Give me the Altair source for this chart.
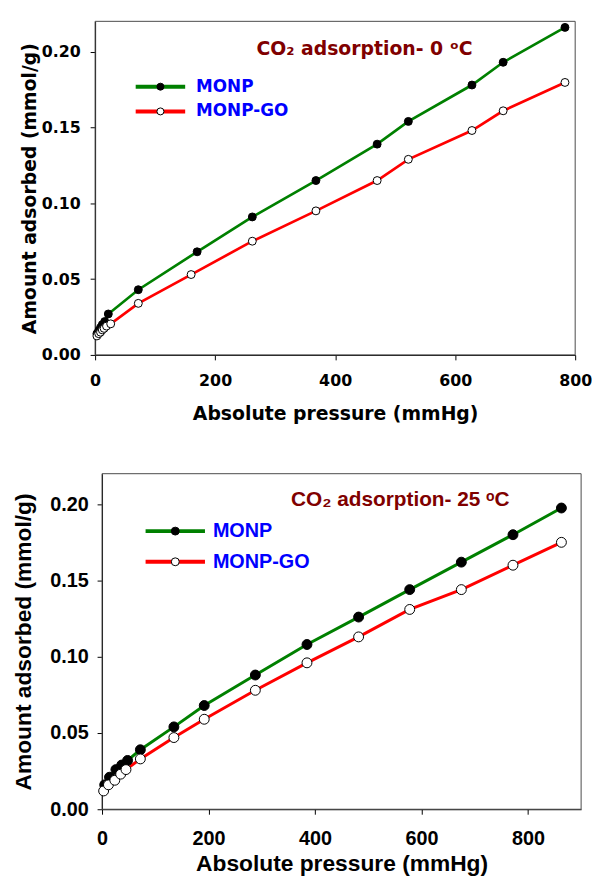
import altair as alt
import pandas as pd

# ---------------- data ----------------
series_names = ["MONP", "MONP-GO"]

# 0 °C panel
p0_monp = [3, 6, 9, 12, 16, 22, 72, 170, 262, 368, 470, 522, 628, 680, 783]
q0_monp = [0.014, 0.016, 0.018, 0.020, 0.022, 0.027, 0.043, 0.068, 0.091, 0.115, 0.139, 0.154, 0.178, 0.193, 0.216]
p0_go = [3, 6, 9, 12, 15, 19, 26, 72, 160, 262, 368, 470, 522, 628, 680, 783]
q0_go = [0.0125, 0.014, 0.015, 0.0165, 0.0175, 0.019, 0.0205, 0.034, 0.053, 0.075, 0.095, 0.115, 0.129, 0.148, 0.161, 0.1797]

# 25 °C panel
p25_monp = [5, 14, 26, 37, 48, 72, 135, 192, 288, 385, 482, 578, 675, 772, 863]
q25_monp = [0.016, 0.021, 0.026, 0.029, 0.032, 0.039, 0.054, 0.068, 0.088, 0.108, 0.126, 0.144, 0.162, 0.180, 0.1975]
p25_go = [3, 12, 24, 35, 45, 72, 135, 192, 288, 385, 482, 578, 675, 772, 863]
q25_go = [0.012, 0.016, 0.019, 0.023, 0.026, 0.033, 0.047, 0.059, 0.078, 0.096, 0.113, 0.131, 0.144, 0.160, 0.175]

x_ticks = [0, 200, 400, 600, 800]
y_ticks = [0.0, 0.05, 0.10, 0.15, 0.20]
x_title = "Absolute pressure (mmHg)"
y_title = "Amount adsorbed (mmol/g)"
title_top = "CO₂ adsorption- 0 ᵒC"
title_bottom = "CO₂ adsorption- 25 ᵒC"

line_colors = ["#008000", "#FF0000"]
point_fills = ["#000000", "#FFFFFF"]
frame_color = "#4a4a4a"
title_color = "#800000"
legend_color = "#0000FF"


def make_df(pm, qm, pg, qg):
    return pd.DataFrame({
        "series": [series_names[0]] * len(pm) + [series_names[1]] * len(pg),
        "p": pm + pg,
        "q": qm + qg,
    })


def panel(df, title, xmax, cfg):
    w, h, shift = cfg["w"], cfg["h"], cfg["shift"]
    font = cfg["font"]
    common_axis = dict(grid=False, tickSize=5, labelFont=font, labelFontSize=cfg["tick_fs"],
                       labelFontWeight="bold", labelColor="black", titleFont=font,
                       titleFontSize=cfg["title_fs"], titleFontWeight="bold", titleColor="black",
                       domainColor="black", tickColor="black", labelFlush=False,
                       labelOverlap=False, domainWidth=1, tickWidth=1)
    x = alt.X("p:Q", scale=alt.Scale(domain=[0, xmax], nice=False, zero=True, range=[shift, w]),
              axis=alt.Axis(values=x_ticks, title=x_title, labelPadding=cfg["x_lp"],
                            titlePadding=cfg["x_tp"], **common_axis))
    y = alt.Y("q:Q", scale=alt.Scale(domain=[0, 0.22], nice=False),
              axis=alt.Axis(values=y_ticks, format=".2f", title=y_title, labelPadding=cfg["y_lp"],
                            titlePadding=cfg["y_tp"], offset=-shift, **common_axis))

    one = pd.DataFrame({"k": [0]})
    frame = alt.Chart(one).mark_rect(filled=False, stroke=frame_color, strokeWidth=1).encode(
        x=alt.value(shift), x2=alt.value(w), y=alt.value(0), y2=alt.value(h))

    lines = alt.Chart(df).mark_line(strokeWidth=cfg["lw"]).encode(
        x=x, y=y,
        color=alt.Color("series:N", scale=alt.Scale(domain=series_names, range=line_colors), legend=None),
    )
    points = alt.Chart(df).mark_point(filled=True, opacity=1, size=cfg["psize"], stroke="black",
                                      strokeWidth=1).encode(
        x=x, y=y,
        fill=alt.Fill("series:N", scale=alt.Scale(domain=series_names, range=point_fills), legend=None),
    )
    layers = [frame, lines, points]

    # legend (line + marker + label per series)
    lx0, lx1, lys = cfg["leg_x0"], cfg["leg_x1"], cfg["leg_y"]
    for i, name in enumerate(series_names):
        d = pd.DataFrame({"series": [name]})
        layers.append(alt.Chart(d).mark_rule(strokeWidth=4, color=line_colors[i]).encode(
            x=alt.value(lx0), x2=alt.value(lx1), y=alt.value(lys[i])))
        layers.append(alt.Chart(d).mark_point(filled=True, opacity=1, shape="circle",
                                              size=cfg["leg_circ"], stroke="black", strokeWidth=1,
                                              fill=point_fills[i]).encode(
            x=alt.value((lx0 + lx1) / 2), y=alt.value(lys[i])))
        layers.append(alt.Chart(d).mark_text(font=font, fontSize=cfg["leg_fs"], fontWeight="bold",
                                             color=legend_color, align="left",
                                             baseline="middle").encode(
            text="series:N", x=alt.value(cfg["leg_tx"]), y=alt.value(lys[i])))

    label = alt.Chart(pd.DataFrame({"t": [title]})).mark_text(
        font=font, fontSize=cfg["t_fs"], fontWeight="bold", color=title_color, align="left",
        baseline="alphabetic"
    ).encode(text="t:N", x=alt.value(cfg["t_x"]), y=alt.value(cfg["t_y"]))
    layers.append(label)
    return alt.layer(*layers).properties(width=w, height=h)


top_cfg = dict(w=485, h=337, shift=0, font="DejaVu Sans", tick_fs=16, title_fs=19,
               x_lp=13, x_tp=16, y_lp=10, y_tp=2, lw=2.7, psize=64,
               leg_x0=41, leg_x1=91, leg_y=[66, 91], leg_circ=50, leg_tx=102, leg_fs=17,
               t_x=163, t_y=34, t_fs=19)
bottom_cfg = dict(w=491, h=339, shift=7, font="Liberation Sans", tick_fs=20, title_fs=23,
                  x_lp=15, x_tp=4, y_lp=9, y_tp=14, lw=3, psize=100,
                  leg_x0=51, leg_x1=111, leg_y=[58, 89], leg_circ=64, leg_tx=119, leg_fs=20,
                  t_x=198, t_y=33, t_fs=21)

top = panel(make_df(p0_monp, q0_monp, p0_go, q0_go), title_top, 800, top_cfg)
bottom = panel(make_df(p25_monp, q25_monp, p25_go, q25_go), title_bottom, 900, bottom_cfg)

chart = alt.vconcat(top, bottom, spacing=50).resolve_scale(
    color="independent", fill="independent", x="independent", y="independent"
).properties(
    padding={"left": 5, "top": 8, "right": 0, "bottom": 0}
).configure_view(stroke=None)

chart.save("out.html", embed_options={"renderer": "svg", "actions": False})
